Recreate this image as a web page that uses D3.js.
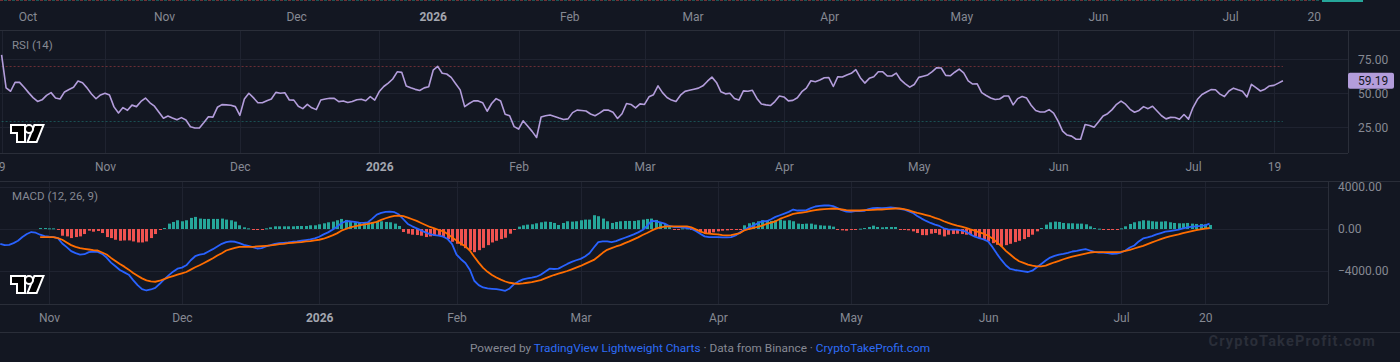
<!DOCTYPE html>
<html>
<head>
<meta charset="utf-8">
<script src="https://cdn.jsdelivr.net/npm/d3@7"></script>
<style>
  body { margin: 0; background: #131722; overflow: hidden; }
  svg { display: block; font-family: Roboto, "Noto Sans", sans-serif; }
</style>
</head>
<body>
<svg id="chart" width="1400" height="362"></svg>
<script>
// daily data, first date of each series
const rsiStart = '2025-10-09'
const macdStart = '2025-10-21'
const signalStart = '2025-10-30'

const rsiValues = [
  78.2, 54, 51.5, 58.1, 58, 54.5, 50.5, 46.8, 44, 45.2, 48.5, 50.5, 46.5, 45.8, 51, 52.8, 54.4, 59, 57.8, 54,
  49.5, 46, 48.8, 50, 48.7, 40, 35.5, 39.5, 37.5, 41.3, 40.2, 44, 46.5, 43, 40.5, 36, 31.7, 33.3, 31.8, 30.5,
  32.1, 30.4, 25.4, 24.5, 24.5, 28.5, 32.8, 32.5, 39.7, 41.7, 41.5, 41.2, 40.2, 33.8, 45.8, 50, 46.8, 43.1, 43.1, 44.5,
  45.8, 50.7, 50, 50.4, 45.1, 45, 40.5, 38.7, 41.8, 39.3, 38, 45.1, 45.8, 46.3, 46.3, 43.9, 44.4, 43.2, 44, 45.3,
  45.6, 44.5, 47.5, 45, 51.3, 55, 57.5, 60.5, 65.8, 65.4, 55.3, 54, 52.9, 52.1, 54, 54.8, 67, 69.8, 64.7, 64.2,
  61.7, 57, 52.5, 40.2, 42.5, 44.4, 44.4, 43.1, 36.8, 42.5, 46.1, 44.3, 34.6, 33.5, 25.5, 23.7, 29.8, 26, 22, 17.5,
  32.6, 33.5, 34, 33, 31.8, 30.7, 31.2, 35.8, 37.6, 37.4, 37, 34.8, 33.5, 35.4, 37.7, 37.6, 36, 31.5, 35, 42.5,
  41.8, 39.3, 42.2, 41.8, 47.4, 49, 55.5, 50.5, 46.9, 45, 44, 48.6, 51.4, 52.2, 53, 53.8, 55.5, 58.9, 61.9, 58,
  51.1, 49.6, 50, 46.2, 45, 51.8, 51.5, 52.2, 46.2, 42.1, 41.5, 41, 43.9, 48, 47.3, 44.4, 44.8, 46.7, 51.2, 53.8,
  59.2, 58.5, 59.8, 61.4, 61.5, 55, 62.2, 62, 63.5, 64.7, 67.4, 61.5, 57.5, 61, 62.2, 65.9, 65.8, 62.7, 62.7, 64.8,
  59.8, 57, 54.5, 56.5, 61.7, 62.6, 63.5, 66, 68.8, 68.6, 63.2, 62.9, 65.5, 67.8, 65, 59.2, 56.8, 57, 50.5, 48.4,
  46.6, 45.4, 45.8, 48, 48, 41.5, 46.1, 47.6, 46.5, 41.2, 37.4, 36.3, 36.3, 38, 35.5, 29.5, 22.2, 19.3, 18.5, 16.2,
  16.2, 27, 26.3, 25, 29, 33.3, 35, 38, 41.9, 44.2, 42, 38.2, 36.1, 37.4, 40.2, 38.7, 40.5, 37, 33.5, 31.2,
  32.3, 32.2, 30.9, 34.4, 31, 39.5, 45.6, 49.1, 50.9, 52.7, 52.6, 49.4, 47.6, 51.7, 53.8, 52.6, 51.5, 47.3, 56.6, 54.2,
  51.7, 53, 55.4, 55.8, 57.5, 59.19
]

const macdValues = [
  -1408, -1536, -1504, -1344, -1120, -768, -480, -288, -352, -544,
  -672, -736, -768, -864, -1376, -1728, -2112, -2304, -2432, -2400,
  -2208, -2144, -2176, -2368, -2720, -3200, -3552, -3904, -4128, -4352,
  -4864, -5344, -5728, -5856, -5760, -5600, -5216, -4800, -4416, -4064,
  -3776, -3680, -3456, -2976, -2592, -2432, -2368, -2144, -1920, -1664,
  -1408, -1248, -1184, -1216, -1344, -1504, -1600, -1728, -1856, -1824,
  -1664, -1536, -1408, -1344, -1312, -1280, -1216, -1184, -1120, -1056,
  -992, -896, -736, -512, -320, -64, 224, 544, 736, 736,
  672, 608, 576, 640, 992, 1376, 1536, 1632, 1664, 1600,
  1376, 928, 480, 256, 64, -128, -320, -480, -576, -640,
  -736, -960, -1440, -2432, -2880, -3232, -3872, -4928, -5344, -5568,
  -5664, -5696, -5728, -5792, -5888, -5664, -5248, -4992, -4800, -4704,
  -4640, -4544, -4352, -4064, -3776, -3808, -3776, -3552, -3328, -3136,
  -2976, -2848, -2624, -2304, -1760, -1248, -1184, -1184, -1248, -1152,
  -992, -832, -672, -512, -320, -96, 288, 768, 736, 640,
  512, 288, 192, 192, 160, 96, 32, -192, -448, -704,
  -768, -768, -768, -800, -800, -768, -608, -320, -64, 160,
  320, 544, 736, 736, 928, 1152, 1312, 1472, 1632, 1856,
  1760, 1760, 1792, 1984, 2144, 2208, 2240, 2240, 2176, 1984,
  1792, 1664, 1632, 1696, 1696, 1728, 1888, 1984, 2016, 1984,
  2016, 2048, 2016, 1920, 1856, 1696, 1536, 1248, 990, 768,
  576, 416, 288, 64, -32, -64, -64, -128, -256, -512,
  -736, -864, -992, -1184, -1728, -2368, -2944, -3456, -3808, -3904,
  -3968, -4032, -4096, -3968, -3648, -3328, -3008, -2720, -2560, -2432,
  -2368, -2272, -2144, -2080, -1984, -1920, -2048, -2176, -2240, -2240,
  -2304, -2368, -2336, -2240, -2048, -1760, -1568, -1184, -896, -800,
  -672, -512, -384, -256, -192, -128, -64, 64, 160, 224,
  256, 288, 352, 512
]

const signalValues = [
  -768, -768, -768, -768, -864, -1024, -1280, -1536, -1696, -1824, -1888,
  -1952, -2016, -2048, -2240, -2432, -2752, -3040, -3328, -3584, -3872,
  -4192, -4448, -4704, -4896, -4992, -5024, -4928, -4768, -4608, -4480,
  -4352, -4224, -4096, -3872, -3648, -3456, -3232, -3008, -2784, -2528,
  -2304, -2048, -1920, -1792, -1696, -1696, -1696, -1696, -1664, -1632,
  -1600, -1568, -1504, -1440, -1408, -1344, -1312, -1280, -1248, -1184,
  -1152, -1088, -1024, -928, -768, -608, -416, -160, 0, 160,
  256, 352, 416, 480, 576, 672, 864, 1024, 1152, 1248,
  1280, 1216, 1088, 928, 768, 576, 384, 192, 64, -96,
  -224, -480, -800, -1088, -1400, -1650, -2050, -2650, -3200, -3700,
  -4080, -4380, -4620, -4820, -5000, -5120, -5190, -5235, -5184, -5120,
  -5056, -4960, -4864, -4704, -4544, -4384, -4256, -4128, -4000, -3840,
  -3680, -3520, -3328, -3136, -2944, -2624, -2272, -1984, -1824, -1664,
  -1536, -1344, -1184, -992, -800, -576, -384, -160, 32, 160,
  224, 256, 256, 256, 256, 256, 160, -32, -224, -384,
  -448, -480, -512, -576, -608, -576, -480, -384, -128, 0,
  96, 192, 320, 480, 608, 736, 960, 1120, 1280, 1440,
  1504, 1568, 1632, 1728, 1792, 1856, 1888, 1920, 1952, 1920,
  1856, 1792, 1760, 1760, 1760, 1792, 1792, 1824, 1856, 1856,
  1888, 1920, 1952, 1952, 1888, 1792, 1664, 1536, 1450, 1330,
  1216, 1056, 928, 736, 576, 448, 320, 224, 112, -32,
  -160, -320, -448, -640, -896, -1280, -1632, -2080, -2432, -2784,
  -3072, -3232, -3392, -3488, -3552, -3552, -3488, -3328, -3168, -3040,
  -2880, -2752, -2624, -2528, -2432, -2336, -2240, -2208, -2208, -2208,
  -2208, -2208, -2208, -2176, -2080, -1984, -1856, -1728, -1600, -1440,
  -1280, -1120, -960, -832, -704, -608, -512, -384, -288, -192,
  -96, -32, 32, 96
]

const histValues = [
  96, 96, 64, 64, -32, -640, -704, -864, -768, -704, -480,
  -160, -256, -192, -384, -768, -864, -1024, -1120, -1088, -1088,
  -1184, -1280, -1280, -1184, -864, -480, -64, 96, 512, 672,
  832, 736, 832, 1056, 1152, 992, 960, 960, 960, 960,
  992, 896, 832, 704, 352, 160, 64, -32, -64, -32,
  64, 160, 256, 256, 256, 256, 256, 288, 288, 288,
  352, 352, 448, 544, 640, 704, 832, 960, 864, 736,
  640, 576, 576, 640, 640, 736, 736, 672, 640, 512,
  288, -288, -448, -544, -576, -640, -768, -704, -640, -576,
  -768, -960, -1216, -1408, -1570, -1824, -2016, -2208, -2016, -1792,
  -1536, -1280, -1120, -960, -832, -448, -64, 224, 352, 416,
  448, 544, 640, 704, 672, 576, 384, 576, 736, 704,
  736, 832, 896, 896, 1312, 1216, 992, 736, 576, 672,
  736, 768, 768, 768, 832, 896, 960, 992, 864, 640,
  480, 256, -96, -64, 64, 64, -64, -160, -320, -480,
  -448, -320, -224, -160, -128, -96, -64, -32, 352, 544,
  640, 736, 832, 800, 768, 832, 896, 800, 832, 736,
  512, 480, 512, 512, 416, 352, 320, 320, 224, -64,
  -128, -160, -64, -64, 32, 96, 192, 320, 192, 160,
  192, 192, 192, -32, -64, -128, -224, -384, -580, -590,
  -448, -384, -544, -704, -544, -480, -448, -480, -544, -544,
  -704, -864, -960, -1184, -1344, -1504, -1664, -1536, -1408, -1248,
  -1120, -960, -768, -544, -224, 96, 416, 640, 704, 672,
  576, 544, 544, 512, 512, 448, 256, 96, 32, -32,
  -32, -32, -16, 64, 256, 480, 640, 736, 832, 800,
  736, 704, 704, 736, 640, 576, 544, 544, 576, 512,
  480, 480, 448, 384
]

const rsiLevels = [70, 30]
const rsiTicks = [75, 50, 25]
const macdTicks = [4000, 0, -4000]
const rsiLast = 59.19

const topTimeTicks = ['2025-10-01', '2025-11-01', '2025-12-01', '2026-01-01', '2026-02-01', '2026-03-01',
  '2026-04-01', '2026-05-01', '2026-06-01', '2026-07-01', '2026-07-20']
const rsiTimeTicks = ['2025-10-09', '2025-11-01', '2025-12-01', '2026-01-01', '2026-02-01', '2026-03-01',
  '2026-04-01', '2026-05-01', '2026-06-01', '2026-07-01', '2026-07-19']
const macdTimeTicks = ['2025-11-01', '2025-12-01', '2026-01-01', '2026-02-01', '2026-03-01',
  '2026-04-01', '2026-05-01', '2026-06-01', '2026-07-01', '2026-07-20']

const parseDate = d3.utcParse('%Y-%m-%d')
const toRows = (start, values) => values.map((v, i) => ({ date: d3.utcDay.offset(parseDate(start), i), value: v }))

const rsiData = toRows(rsiStart, rsiValues)
const macdData = toRows(macdStart, macdValues)
const signalData = toRows(signalStart, signalValues)
const histData = toRows(signalStart, histValues)

const bg = '#131722'
const gridColor = '#1f2330'
const borderColor = '#2a2e39'
const textColor = '#868993'

const svg = d3.select('#chart')
svg.append('rect').attr('width', 1400).attr('height', 362).attr('fill', bg)

// month anchors for each chart's time scale
const anchor = [parseDate('2025-11-01'), parseDate('2026-07-01')]
const xTop = d3.scaleUtc().domain(anchor).range([164, 1230])
const xRsi = d3.scaleUtc().domain(anchor).range([105, 1193])
const xMacd = d3.scaleUtc().domain(anchor).range([49, 1121])

const yRsi = d3.scaleLinear().domain([25, 75]).range([127.3, 59.3])
const yMacd = d3.scaleLinear().domain([-4000, 4000]).range([271, 187])

const tickLabel = d => {
  if (d.getUTCDate() !== 1) return d3.utcFormat('%-d')(d)
  if (d.getUTCMonth() === 0) return d3.utcFormat('%Y')(d)
  return d3.utcFormat('%b')(d)
}
const isYear = d => d.getUTCDate() === 1 && d.getUTCMonth() === 0

function timeAxis(x, ticks, y) {
  const g = svg.append('g')
    .attr('transform', `translate(0,${y})`)
    .call(d3.axisBottom(x).tickValues(ticks.map(parseDate)).tickFormat(tickLabel).tickSize(0).tickPadding(0))
  g.select('.domain').remove()
  g.attr('font-family', null).attr('font-size', null)
  g.selectAll('text')
    .attr('y', 0)
    .attr('dy', '0.35em')
    .attr('font-size', 12)
    .attr('fill', d => isYear(d) ? '#a3a6af' : textColor)
    .attr('font-weight', d => isYear(d) ? 'bold' : null)
}

function priceAxis(y, ticks, x) {
  const g = svg.append('g')
    .attr('transform', `translate(${x},0)`)
    .call(d3.axisRight(y).tickValues(ticks).tickFormat(d3.format('.2f')).tickSize(0).tickPadding(10))
  g.select('.domain').remove()
  g.attr('font-family', null).attr('font-size', null)
  g.selectAll('text').attr('font-size', 12).attr('fill', textColor)
}

function tvLogo(x, y) {
  const g = svg.append('g').attr('transform', `translate(${x},${y})`)
  const shapes = ['M14 2H2v6h6v9h6V2Z', 'M26 17h-7l6-15h7l-6 15Z']
  shapes.forEach(p => g.append('path').attr('d', p)
    .attr('fill', '#000').attr('stroke', '#fff').attr('stroke-width', 4)
    .attr('stroke-linejoin', 'miter').attr('paint-order', 'stroke fill'))
  g.append('circle').attr('cx', 19).attr('cy', 5).attr('r', 3)
    .attr('fill', '#000').attr('stroke', '#fff').attr('stroke-width', 4).attr('paint-order', 'stroke fill')
}

// top strip: bottom of the price pane + its time axis
svg.append('line').attr('x1', 0).attr('x2', 1320).attr('y1', 0.5).attr('y2', 0.5)
  .attr('stroke', 'rgba(239,83,80,0.45)').attr('stroke-dasharray', '3 5')
svg.append('line').attr('x1', 4).attr('x2', 1320).attr('y1', 0.5).attr('y2', 0.5)
  .attr('stroke', 'rgba(38,166,154,0.45)').attr('stroke-dasharray', '3 5')
svg.append('rect').attr('x', 1322).attr('y', 0).attr('width', 41).attr('height', 2).attr('fill', '#26a69a')
timeAxis(xTop, topTimeTicks, 17)
svg.append('line').attr('x1', 0).attr('x2', 1400).attr('y1', 30.5).attr('y2', 30.5).attr('stroke', borderColor)

// ---------- RSI pane ----------
const rsiTop = 31, rsiBottom = 153, rsiRight = 1348
svg.append('clipPath').attr('id', 'clipRsi').append('rect')
  .attr('x', 0).attr('y', rsiTop).attr('width', rsiRight).attr('height', rsiBottom - rsiTop)

const rsiGrid = svg.append('g').attr('stroke', gridColor)
rsiGrid.selectAll('.v').data(rsiTimeTicks.map(parseDate)).join('line')
  .attr('x1', d => Math.round(xRsi(d)) + 0.5).attr('x2', d => Math.round(xRsi(d)) + 0.5)
  .attr('y1', rsiTop).attr('y2', rsiBottom)
rsiGrid.selectAll('.h').data(rsiTicks).join('line')
  .attr('x1', 0).attr('x2', rsiRight)
  .attr('y1', d => Math.round(yRsi(d)) + 0.5).attr('y2', d => Math.round(yRsi(d)) + 0.5)

const rsiFirst = rsiData[0].date, rsiEnd = rsiData[rsiData.length - 1].date
svg.append('g').selectAll('line').data(rsiLevels).join('line')
  .attr('x1', xRsi(rsiFirst)).attr('x2', xRsi(rsiEnd))
  .attr('y1', d => Math.round(yRsi(d)) + 0.5).attr('y2', d => Math.round(yRsi(d)) + 0.5)
  .attr('stroke', d => d > 50 ? 'rgba(239,83,80,0.4)' : 'rgba(38,166,154,0.4)')
  .attr('stroke-dasharray', '2 2')

svg.append('path')
  .datum(rsiData)
  .attr('clip-path', 'url(#clipRsi)')
  .attr('fill', 'none')
  .attr('stroke', '#b39ddb')
  .attr('stroke-width', 1.6)
  .attr('stroke-linejoin', 'round')
  .attr('d', d3.line().x(d => xRsi(d.date)).y(d => yRsi(d.value)))

svg.append('line').attr('x1', 0).attr('x2', rsiRight).attr('y1', rsiBottom + 0.5).attr('y2', rsiBottom + 0.5).attr('stroke', borderColor)
svg.append('line').attr('x1', rsiRight + 0.5).attr('x2', rsiRight + 0.5).attr('y1', rsiTop).attr('y2', rsiBottom).attr('stroke', borderColor)

priceAxis(yRsi, rsiTicks, rsiRight)
svg.append('rect').attr('x', rsiRight).attr('y', yRsi(rsiLast) - 8).attr('width', 46).attr('height', 16)
  .attr('rx', 2).attr('fill', '#b39ddb')
svg.append('text').attr('x', rsiRight + 10).attr('y', yRsi(rsiLast)).attr('dy', '0.35em')
  .attr('font-size', 12).attr('fill', '#131722').text(d3.format('.2f')(rsiLast))

svg.append('text').attr('x', 12).attr('y', 45).attr('dy', '0.35em')
  .attr('font-size', 11.5).attr('fill', textColor).text('RSI (14)')
tvLogo(10, 124)
timeAxis(xRsi, rsiTimeTicks, 167)

// ---------- MACD pane ----------
svg.append('line').attr('x1', 0).attr('x2', 1400).attr('y1', 181.5).attr('y2', 181.5).attr('stroke', borderColor)
const macdTop = 182, macdBottom = 304, macdRight = 1328
svg.append('clipPath').attr('id', 'clipMacd').append('rect')
  .attr('x', 0).attr('y', macdTop).attr('width', macdRight).attr('height', macdBottom - macdTop)

const macdGrid = svg.append('g').attr('stroke', gridColor)
macdGrid.selectAll('.v').data(macdTimeTicks.map(parseDate)).join('line')
  .attr('x1', d => Math.round(xMacd(d)) + 0.5).attr('x2', d => Math.round(xMacd(d)) + 0.5)
  .attr('y1', macdTop).attr('y2', macdBottom)
macdGrid.selectAll('.h').data(macdTicks).join('line')
  .attr('x1', 0).attr('x2', macdRight)
  .attr('y1', d => Math.round(yMacd(d)) + 0.5).attr('y2', d => Math.round(yMacd(d)) + 0.5)

const macdPlot = svg.append('g').attr('clip-path', 'url(#clipMacd)')
macdPlot.selectAll('rect').data(histData).join('rect')
  .attr('x', d => Math.round(xMacd(d.date)) - 1)
  .attr('width', 3)
  .attr('y', d => Math.min(yMacd(d.value), yMacd(0)))
  .attr('height', d => Math.max(1, Math.abs(yMacd(d.value) - yMacd(0))))
  .attr('fill', d => d.value >= 0 ? '#26a69a' : '#ef5350')

const macdLine = d3.line().x(d => xMacd(d.date)).y(d => yMacd(d.value))
macdPlot.append('path').datum(macdData)
  .attr('fill', 'none').attr('stroke', '#2962ff').attr('stroke-width', 1.8)
  .attr('stroke-linejoin', 'round').attr('d', macdLine)
macdPlot.append('path').datum(signalData)
  .attr('fill', 'none').attr('stroke', '#ff6d00').attr('stroke-width', 1.8)
  .attr('stroke-linejoin', 'round').attr('d', macdLine)

svg.append('line').attr('x1', 0).attr('x2', macdRight).attr('y1', macdBottom + 0.5).attr('y2', macdBottom + 0.5).attr('stroke', borderColor)
svg.append('line').attr('x1', macdRight + 0.5).attr('x2', macdRight + 0.5).attr('y1', macdTop).attr('y2', macdBottom).attr('stroke', borderColor)

priceAxis(yMacd, macdTicks, macdRight)
svg.append('text').attr('x', 12).attr('y', 196).attr('dy', '0.35em')
  .attr('font-size', 11.5).attr('fill', textColor).text('MACD (12, 26, 9)')
tvLogo(10, 275)
timeAxis(xMacd, macdTimeTicks, 318)

// ---------- footer ----------
svg.append('line').attr('x1', 0).attr('x2', 1400).attr('y1', 332.5).attr('y2', 332.5).attr('stroke', borderColor)
const footer = svg.append('text').attr('x', 700).attr('y', 352).attr('text-anchor', 'middle')
  .attr('font-size', 11.8).attr('fill', textColor)
footer.append('tspan').text('Powered by ')
footer.append('tspan').attr('fill', '#2e6cf6').text('TradingView Lightweight Charts')
footer.append('tspan').text(' · Data from Binance · ')
footer.append('tspan').attr('fill', '#2e6cf6').text('CryptoTakeProfit.com')

svg.append('text').attr('x', 1376).attr('y', 346).attr('text-anchor', 'end')
  .attr('font-size', 14.5).attr('font-weight', 'bold').attr('letter-spacing', 1.2)
  .attr('fill', '#2a2e39').text('CryptoTakeProfit.com')
</script>
</body>
</html>
